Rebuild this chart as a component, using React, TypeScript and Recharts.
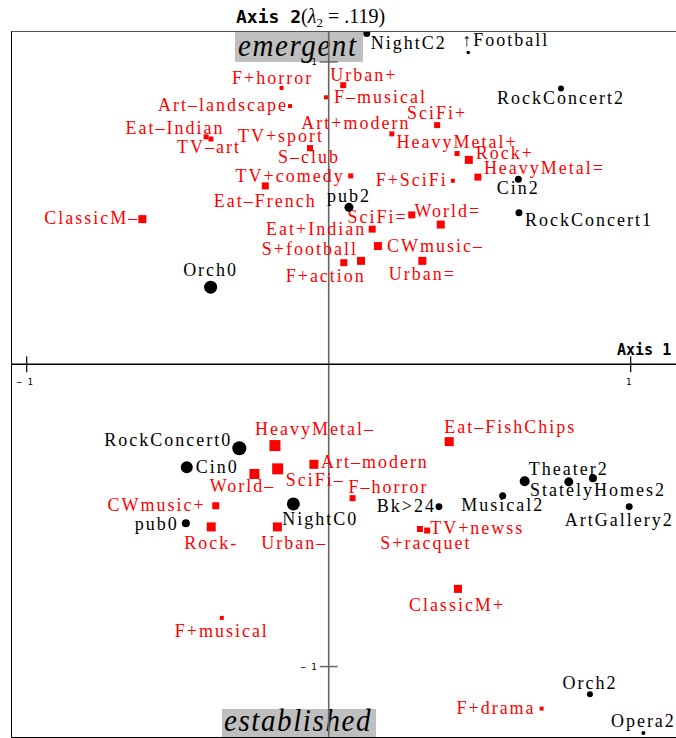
import React from "react";
import { ScatterChart, Scatter, XAxis, YAxis, ReferenceLine } from "recharts";

// column points (black dots): venue / activity levels
const colNames = [
  "NightC2", "↑Football", "RockConcert2", "Cin2", "RockConcert1", "pub2", "Orch0",
  "RockConcert0", "Cin0", "pub0", "NightC0", "Bk>24", "Musical2", "",
  "Theater2", "StatelyHomes2", "ArtGallery2", "Orch2", "Opera2",
];
const colX = [
  0.126, 0.462, 0.769, 0.628, 0.630, 0.067, -0.391,
  -0.296, -0.470, -0.473, -0.117, 0.365, 0.576, 0.649,
  0.795, 0.875, 0.995, 0.865, 1.042,
];
const colY = [
  1.094, 1.031, 0.912, 0.612, 0.501, 0.519, 0.255,
  -0.278, -0.341, -0.526, -0.462, -0.471, -0.435, -0.387,
  -0.389, -0.377, -0.471, -1.092, -1.220,
];

// row points (red squares): tastes
const rowNames = [
  "F+horror", "Urban+", "F–musical", "Art–landscape", "SciFi+", "Art+modern",
  "Eat–Indian", "TV–art", "TV+sport", "S–club", "TV+comedy", "Eat–French",
  "F+SciFi", "HeavyMetal+", "Rock+", "HeavyMetal=", "ClassicM–", "SciFi=",
  "World=", "Eat+Indian", "CWmusic–", "S+football", "F+action", "Urban=",
  "HeavyMetal–", "SciFi–", "World–", "Art–modern", "F–horror", "CWmusic+",
  "Rock-", "Urban–", "Eat–FishChips", "S+racquet", "TV+newss", "ClassicM+",
  "F+musical", "F+drama",
];
const rowX = [
  -0.156, 0.048, -0.009, -0.128, 0.359, 0.209,
  -0.406, -0.390, -0.062, -0.059, 0.073, -0.210,
  0.411, 0.425, 0.464, 0.494, -0.617, 0.275,
  0.371, 0.144, 0.163, 0.107, 0.050, 0.310,
  -0.178, -0.169, -0.246, -0.049, 0.079, -0.374,
  -0.389, -0.170, 0.399, 0.302, 0.326, 0.428,
  -0.354, 0.705,
];
const rowY = [
  0.914, 0.923, 0.883, 0.854, 0.791, 0.762,
  0.752, 0.745, 0.715, 0.711, 0.623, 0.590,
  0.607, 0.697, 0.676, 0.619, 0.480, 0.494,
  0.462, 0.447, 0.391, 0.342, 0.336, 0.342,
  -0.269, -0.346, -0.363, -0.331, -0.443, -0.468,
  -0.538, -0.538, -0.256, -0.545, -0.550, -0.743,
  -0.839, -1.139,
];

const axisTicks = [-1, 1];
const tickText = ["− 1", "1"];

const X_DOMAIN = [-1.0487, 1.15];
const Y_DOMAIN = [-1.233, 1.099];

// marker sizes (circle radius / square side, px)
const dotRadius: Record<string, number> = {
  NightC2: 3.5, "↑Football": 1.8, RockConcert2: 3, Cin2: 3.5, RockConcert1: 3.5,
  pub2: 4.5, Orch0: 6.5, RockConcert0: 7, Cin0: 6, pub0: 4, NightC0: 6.5,
  "Bk>24": 3.5, Musical2: 3.5, "": 5, Theater2: 4.5, StatelyHomes2: 4,
  ArtGallery2: 3.5, Orch2: 3, Opera2: 2,
};
const squareSide: Record<string, number> = {
  "F+horror": 4, "Urban+": 6, "F–musical": 4, "Art–landscape": 4, "SciFi+": 6,
  "Art+modern": 5, "Eat–Indian": 5, "TV–art": 5, "TV+sport": 6, "S–club": 4,
  "TV+comedy": 5, "Eat–French": 7, "F+SciFi": 4, "HeavyMetal+": 5, "Rock+": 8,
  "HeavyMetal=": 7, "ClassicM–": 8, "SciFi=": 7, "World=": 8, "Eat+Indian": 7,
  "CWmusic–": 8, "S+football": 8, "F+action": 7, "Urban=": 8, "HeavyMetal–": 11,
  "SciFi–": 11, "World–": 10, "Art–modern": 9, "F–horror": 6, "CWmusic+": 7,
  "Rock-": 9, "Urban–": 9, "Eat–FishChips": 9, "S+racquet": 6, "TV+newss": 6,
  "ClassicM+": 8, "F+musical": 4, "F+drama": 4,
};

// label placement: anchor, dx, dy (baseline) relative to the marker
type Place = ["start" | "middle" | "end", number, number];
const labelPlace: Record<string, Place> = {
  NightC2: ["start", 4, 15], "↑Football": ["start", -6, -7],
  RockConcert2: ["middle", 0, 15], Cin2: ["middle", 0, 15],
  RockConcert1: ["start", 6, 13], pub2: ["middle", 0, -5],
  Orch0: ["middle", 0, -11], RockConcert0: ["end", -7, -2],
  Cin0: ["start", 9, 6], pub0: ["end", -7, 7], NightC0: ["start", -11, 21],
  "Bk>24": ["end", -3, 5], Musical2: ["middle", 0, 15],
  Theater2: ["middle", 0, -7], StatelyHomes2: ["middle", 5, 18],
  ArtGallery2: ["middle", -10, 19], Orch2: ["middle", 0, -5],
  Opera2: ["middle", 0, -6],
  "F+horror": ["middle", -9, -4], "Urban+": ["start", -13, -4],
  "F–musical": ["start", 8, 6], "Art–landscape": ["end", -2, 5],
  "SciFi+": ["middle", 0, -6], "Art+modern": ["middle", -36, -5],
  "Eat–Indian": ["middle", -31, -3], "TV–art": ["middle", -2, 14],
  "TV+sport": ["middle", -29, -6], "S–club": ["middle", -2, 14],
  "TV+comedy": ["end", -6, 6], "Eat–French": ["middle", 0, 21],
  "F+SciFi": ["end", -5, 5], "HeavyMetal+": ["middle", 0, -6],
  "Rock+": ["start", 7, -1], "HeavyMetal=": ["start", 6, -3],
  "ClassicM–": ["end", -3, 5], "SciFi=": ["end", -4, 8],
  "World=": ["middle", 7, -8], "Eat+Indian": ["end", -6, 6],
  "CWmusic–": ["start", 9, 6], "S+football": ["end", -3, -6],
  "F+action": ["middle", -18, 19], "Urban=": ["middle", 0, 19],
  "HeavyMetal–": ["start", -20, -11], "SciFi–": ["start", 8, 17],
  "World–": ["middle", -12, 18], "Art–modern": ["start", 7, 4],
  "F–horror": ["start", -4, -5], "CWmusic+": ["end", -10, 5],
  "Rock-": ["middle", 0, 22], "Urban–": ["middle", 17, 22],
  "Eat–FishChips": ["start", -5, -9], "S+racquet": ["middle", 6, 20],
  "TV+newss": ["start", 3, 3], "ClassicM+": ["middle", -1, 22],
  "F+musical": ["middle", 0, 19], "F+drama": ["end", -6, 5],
};

const colData = colNames.map((name, i) => ({ name, x: colX[i], y: colY[i] }));
const rowData = rowNames.map((name, i) => ({ name, x: rowX[i], y: rowY[i] }));
const xTickData = axisTicks.map((v, i) => ({ x: v, y: 0, label: tickText[i] }));
const yTickData = axisTicks.map((v, i) => ({ x: 0, y: v, label: tickText[i] }));

const serif = '"Liberation Serif", "Times New Roman", serif';
const mono = '"DejaVu Sans Mono", "Liberation Mono", monospace';

const PointLabel = ({ name, cx, cy, color }: any) => {
  const p = labelPlace[name];
  if (!p || !name) return null;
  return (
    <text
      x={cx + p[1]}
      y={cy + p[2]}
      textAnchor={p[0]}
      fontFamily={serif}
      fontSize={18}
      letterSpacing={2}
      fill={color}
    >
      {name}
    </text>
  );
};

const DotShape = (props: any) => {
  const { cx, cy, payload } = props;
  return (
    <g>
      <circle cx={cx} cy={cy} r={dotRadius[payload.name] ?? 3} fill="#000" />
      <PointLabel name={payload.name} cx={cx} cy={cy} color="#000" />
    </g>
  );
};

const SquareShape = (props: any) => {
  const { cx, cy, payload } = props;
  const s = squareSide[payload.name] ?? 5;
  return (
    <g>
      <rect x={cx - s / 2} y={cy - s / 2} width={s} height={s} fill="#ff0000" />
      <PointLabel name={payload.name} cx={cx} cy={cy} color="#ff0000" />
    </g>
  );
};

const XTick = (props: any) => {
  const { cx, cy, payload } = props;
  return (
    <g>
      <line x1={cx} x2={cx} y1={cy - 8} y2={cy + 8} stroke="#000" strokeWidth={1.2} />
      <text x={cx - 2} y={cy + 21} textAnchor="middle" fontFamily={mono} fontSize={9} fill="#000">
        {payload.label}
      </text>
    </g>
  );
};

const YTick = (props: any) => {
  const { cx, cy, payload } = props;
  return (
    <g>
      <line x1={cx - 9} x2={cx + 9} y1={cy} y2={cy} stroke="#666" strokeWidth={1.5} />
      <text x={cx - 12} y={cy + 3} textAnchor="end" fontFamily={mono} fontSize={9} fill="#000">
        {payload.label}
      </text>
    </g>
  );
};

const grayBox: React.CSSProperties = {
  position: "absolute",
  background: "#bfbfbf",
};

const boxText: React.CSSProperties = {
  position: "absolute",
  fontFamily: serif,
  fontStyle: "italic",
  fontSize: 29,
  letterSpacing: 1.6,
  lineHeight: 1,
  color: "#000",
  whiteSpace: "nowrap",
  transform: "scaleY(1.1)",
  transformOrigin: "top left",
};

export default function App() {
  return (
    <div style={{ position: "absolute", left: 0, top: 0, width: 676, height: 738, background: "#fff" }}>
      <div style={{ ...grayBox, left: 235, top: 32, width: 128, height: 30 }} />
      <div style={{ ...boxText, left: 238, top: 30 }}>emergent</div>
      <div style={{ ...grayBox, left: 222, top: 709, width: 154, height: 28 }} />
      <div style={{ ...boxText, left: 224, top: 705 }}>established</div>
      <div
        style={{
          position: "absolute",
          left: 11,
          top: 31,
          width: 680,
          height: 705,
          borderLeft: "1.5px solid #000",
          borderTop: "1.5px solid #555",
          borderBottom: "1.5px solid #000",
        }}
      />
      <ScatterChart width={676} height={738} margin={{ top: 32, right: 0, bottom: 1, left: 12 }}>
        <XAxis type="number" dataKey="x" domain={X_DOMAIN} hide allowDataOverflow />
        <YAxis type="number" dataKey="y" domain={Y_DOMAIN} hide allowDataOverflow />
        <ReferenceLine x={0} stroke="#666" strokeWidth={1.6} />
        <ReferenceLine y={0} stroke="#000" strokeWidth={1.3} />
        <Scatter data={xTickData} shape={XTick} isAnimationActive={false} />
        <Scatter data={yTickData} shape={YTick} isAnimationActive={false} />
        <Scatter data={rowData} shape={SquareShape} isAnimationActive={false} />
        <Scatter data={colData} shape={DotShape} isAnimationActive={false} />
      </ScatterChart>
      <div style={{ position: "absolute", left: 236, top: 6, whiteSpace: "nowrap", lineHeight: 1, color: "#000" }}>
        <span style={{ fontFamily: mono, fontWeight: "bold", fontSize: 18 }}>Axis 2</span>
        <span style={{ fontFamily: serif, fontSize: 20 }}>
          (<i>λ</i>
          <span style={{ fontSize: 13, position: "relative", top: 4 }}>2</span> = .119)
        </span>
      </div>
      <div
        style={{
          position: "absolute",
          left: 617,
          top: 343,
          fontFamily: mono,
          fontWeight: "bold",
          fontSize: 15,
          lineHeight: 1,
          color: "#000",
          whiteSpace: "nowrap",
        }}
      >
        Axis 1
      </div>
    </div>
  );
}
